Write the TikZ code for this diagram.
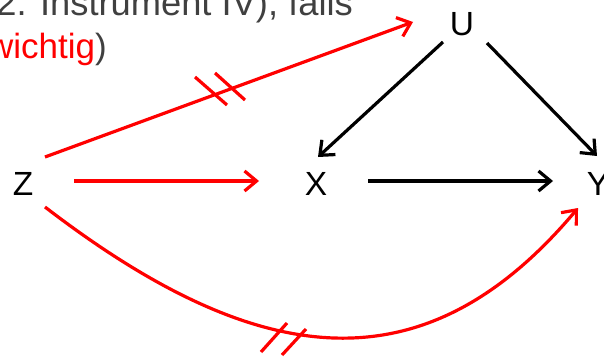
\documentclass[tikz,border=0pt]{standalone}
\usepackage{fontspec}
\setmainfont{Liberation Sans}
\usetikzlibrary{arrows.meta}
\definecolor{txtgray}{HTML}{404040}
\definecolor{pred}{HTML}{FF0000}
\begin{document}
\begin{tikzpicture}[x=1pt,y=-1pt,
  lbl/.style={font=\fontsize{33.5}{40}\selectfont, inner sep=0pt, text=black},
  toptext/.style={font=\fontsize{36.3}{42}\selectfont, inner sep=0pt, text=txtgray},
  midtext/.style={font=\fontsize{35}{42}\selectfont, inner sep=0pt, text=txtgray},
  redarr/.style={draw=pred, line width=3.2pt, -{Straight Barb[length=12pt,width=20pt]}},
  blkarr/.style={draw=black, line width=3.2pt, -{Straight Barb[length=12pt,width=20pt]}},
  hatchmark/.style={draw=pred, line width=3.2pt}]
\useasboundingbox (0,0) rectangle (604,356);
\clip (0,0) rectangle (604,356);
% texts
\node[toptext, anchor=base east] (t1) at (353,15) {2. Instrument IV), falls};
\node[midtext, anchor=base west] (t2) at (-12,58) {\textcolor{pred}{wichtig})};
% nodes
\node[lbl] (Z) at (23,184) {Z};
\node[lbl] (X) at (316,184) {X};
\node[lbl] (U) at (462,24) {U};
\node[lbl] (Y) at (598,184) {Y};
% connectors
\draw[redarr] ([shift={(22,-27)}]Z.center) -- ([shift={(-49,-2)}]U.center);
\draw[redarr] ([shift={(51,-3)}]Z.center) -- ([shift={(-57,-3)}]X.center);
\draw[blkarr] ([shift={(52,-3)}]X.center) -- ([shift={(-45,-3)}]Y.center);
\draw[blkarr] ([shift={(-19,18)}]U.center) -- ([shift={(2,-27)}]X.center);
\draw[blkarr] ([shift={(25,19)}]U.center) -- ([shift={(-1,-28)}]Y.center);
\draw[redarr] ([shift={(22,23)}]Z.center) .. controls (260,372) and (425,390) .. ([shift={(-20,24)}]Y.center);
% hatch marks
\draw[hatchmark] (195,77) -- (227,105);
\draw[hatchmark] (215,73) -- (245,100);
\draw[hatchmark] (287,323) -- (261,352);
\draw[hatchmark] (306,329) -- (282,355);
\end{tikzpicture}
\end{document}
